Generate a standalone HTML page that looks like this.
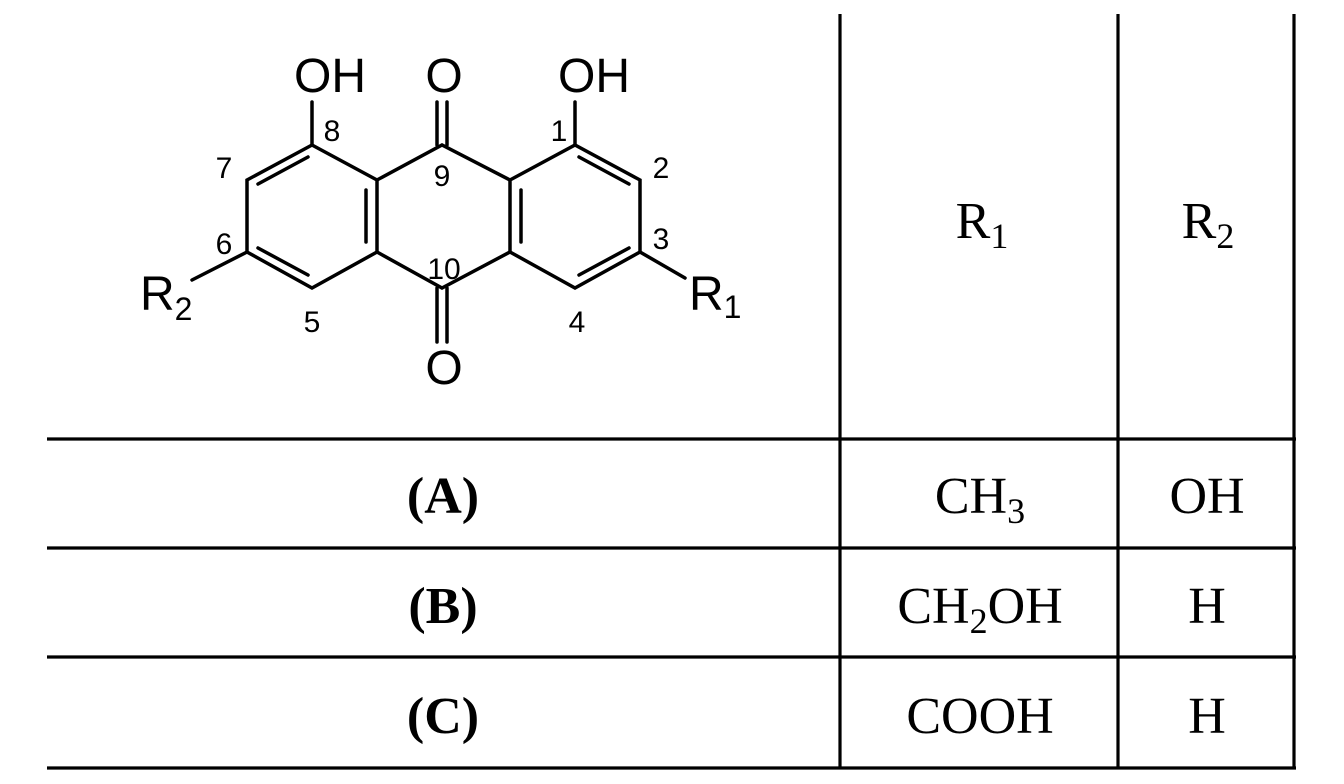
<!DOCTYPE html>
<html><head><meta charset="utf-8"><style>
html,body{margin:0;padding:0;background:#fff;}
svg{display:block;}
.s{font-family:"Liberation Sans",sans-serif;fill:#000;}
.t{font-family:"Liberation Serif",serif;fill:#000;font-size:52px;}
</style></head><body>
<svg width="1344" height="784" viewBox="0 0 1344 784" xmlns="http://www.w3.org/2000/svg">
<rect width="1344" height="784" fill="#fff"/>
<g stroke="#000" stroke-width="3.2">
<line x1="840" y1="14" x2="840" y2="769"/>
<line x1="1118" y1="14" x2="1118" y2="769"/>
<line x1="1294" y1="14" x2="1294" y2="769"/>
<line x1="47" y1="439" x2="1296" y2="439"/>
<line x1="47" y1="548" x2="1296" y2="548"/>
<line x1="47" y1="657" x2="1296" y2="657"/>
<line x1="47" y1="768" x2="1296" y2="768"/>
</g>
<g stroke="#000" stroke-width="3.5" fill="none" stroke-linecap="round">
<polyline points="312,145 247,180 247,252 312,288 377,252 377,180 312,145"/>
<polyline points="377,180 442,145 510,180"/>
<polyline points="377,252 442,288 510,252"/>
<polyline points="510,180 575,145 640,180 640,252 575,288 510,252 510,180"/>
<line x1="308" y1="157" x2="258" y2="184"/>
<line x1="258" y1="248" x2="308" y2="275"/>
<line x1="366" y1="190" x2="366" y2="242"/>
<line x1="521" y1="190" x2="521" y2="242"/>
<line x1="579" y1="157" x2="629" y2="184"/>
<line x1="629" y1="248" x2="579" y2="275"/>
<line x1="312" y1="145" x2="312" y2="102"/>
<line x1="575" y1="145" x2="575" y2="102"/>
<line x1="437" y1="145" x2="437" y2="102"/>
<line x1="447" y1="145" x2="447" y2="102"/>
<line x1="437" y1="288" x2="437" y2="342"/>
<line x1="447" y1="288" x2="447" y2="342"/>
<line x1="247" y1="252" x2="192" y2="280"/>
<line x1="640" y1="252" x2="685" y2="278"/>
</g>
<g class="s" font-size="48">
<text x="330" y="92" text-anchor="middle">OH</text>
<text x="444" y="92" text-anchor="middle">O</text>
<text x="594" y="92" text-anchor="middle">OH</text>
<text x="444" y="384" text-anchor="middle">O</text>
<text x="140" y="310">R<tspan font-size="32" dy="10">2</tspan></text>
<text x="689" y="310">R<tspan font-size="32" dy="8">1</tspan></text>
</g>
<g class="s" font-size="30" text-anchor="middle">
<text x="332" y="141">8</text>
<text x="224" y="178">7</text>
<text x="442" y="186">9</text>
<text x="559" y="141">1</text>
<text x="661" y="178">2</text>
<text x="661" y="249">3</text>
<text x="224" y="254">6</text>
<text x="444" y="279">10</text>
<text x="312" y="332">5</text>
<text x="577" y="332">4</text>
</g>
<g class="t" text-anchor="middle">
<text x="982" y="238">R<tspan font-size="36" dy="10">1</tspan></text>
<text x="1208" y="238">R<tspan font-size="36" dy="10">2</tspan></text>
<text x="443" y="513" font-weight="bold">(A)</text>
<text x="443" y="623" font-weight="bold">(B)</text>
<text x="443" y="733" font-weight="bold">(C)</text>
<text x="980" y="513">CH<tspan font-size="36" dy="10">3</tspan></text>
<text x="1207" y="513">OH</text>
<text x="980" y="623">CH<tspan font-size="36" dy="10">2</tspan><tspan dy="-10">OH</tspan></text>
<text x="1207" y="623">H</text>
<text x="980" y="733">COOH</text>
<text x="1207" y="733">H</text>
</g>
</svg>
</body></html>
